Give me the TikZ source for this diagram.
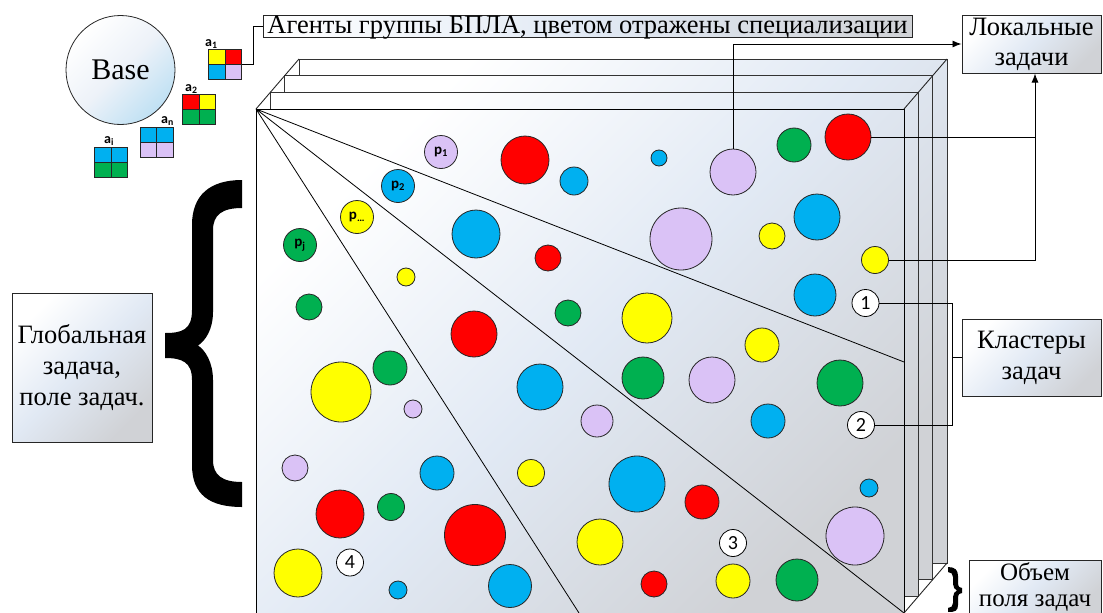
\documentclass[tikz,border=0pt]{standalone}
\usepackage{fontspec}
\setmainfont{Liberation Serif}
\newfontfamily\calib{Carlito}
\usetikzlibrary{arrows.meta,calc}
\definecolor{cyel}{RGB}{255,255,0}
\definecolor{cred}{RGB}{255,0,0}
\definecolor{ccya}{RGB}{0,176,240}
\definecolor{cgrn}{RGB}{0,176,80}
\definecolor{clav}{RGB}{218,194,246}
\definecolor{fblue}{RGB}{225,233,244}
\definecolor{fgray}{RGB}{208,210,214}
\newcommand\cball[5]{\node[dot,fill=#4,minimum size=#5pt] (#1) at (#2,#3) {};}
\begin{document}
\begin{tikzpicture}[x=1pt,y=-1pt,
 dot/.style={circle, draw=black!85, line width=0.8pt, inner sep=0pt},
 numc/.style={circle, draw=black, line width=0.8pt, fill=white, inner sep=0pt, minimum size=27pt, font=\calib\fontsize{20}{20}\selectfont},
 plab/.style={font=\calib\bfseries\fontsize{15}{15}\selectfont},
 alab/.style={inner sep=0pt, anchor=base west, font=\calib\bfseries\fontsize{14}{14}\selectfont},
 lbox/.style={draw=black!85, line width=1pt, top color=white, bottom color=fgray, middle color=fblue, shading angle=45, align=center, font=\fontsize{26.5}{31}\selectfont, inner sep=0pt},
 layer/.style={draw=black!80, line width=1pt, top color=white, bottom color=fgray, middle color=fblue, shading angle=45},
 fan/.style={line width=0.8pt},
 conn/.style={line width=0.9pt},
 arr/.style={conn, -{Latex[length=9pt,width=7pt]}},
 brace/.style={fill=black},
 agent/.style n args={4}{draw=black!85, line width=0.8pt, minimum width=33pt, minimum height=30pt, inner sep=0pt, path picture={
   \fill[#1] (path picture bounding box.north west) rectangle (path picture bounding box.center);
   \fill[#2] (path picture bounding box.north) rectangle (path picture bounding box.east);
   \fill[#3] (path picture bounding box.west) rectangle (path picture bounding box.south);
   \fill[#4] (path picture bounding box.center) rectangle (path picture bounding box.south east);
   \draw[line width=0.8pt] (path picture bounding box.north) -- (path picture bounding box.south)
     (path picture bounding box.west) -- (path picture bounding box.east);}}
]
\useasboundingbox (0,0) rectangle (1103,613);

% stacked layers
\draw[layer] (299,59) rectangle (947,563);
\draw[layer] (284.67,75.67) rectangle (932.67,579.67);
\draw[layer] (270.33,92.33) rectangle (918.33,596.33);
\draw[layer, draw=black] (256,109) rectangle (904,613.5);
\coordinate (apex) at (256,109);
\coordinate (bnw) at (299,59);
\coordinate (fne) at (904,109);
\coordinate (bne) at (947,59);
\coordinate (fse) at (904,613);
\coordinate (bse) at (947,563);
\draw[conn, black!85] (apex) -- (bnw) (fne) -- (bne) (fse) -- (bse);

% fan lines
\coordinate (fe1) at (904,362);
\coordinate (fe3) at (579,613);
\draw[fan] (apex) -- (fe1) (apex) -- (fse) (apex) -- (fe3);

% p-circles
\node[dot, fill=clav, minimum size=33pt, plab] (p1) at (441,152) {p\textsubscript{1}};
\node[dot, fill=ccya, minimum size=33pt, plab] (p2) at (398,186) {p\textsubscript{2}};
\node[dot, fill=cyel, minimum size=33pt, plab] (pd) at (357,217) {p\textsubscript{…}};
\node[dot, fill=cgrn, minimum size=33pt, plab] (pj) at (300,245) {p\textsubscript{j}};

% task circles
\cball{c01}{525}{160}{cred}{48}
\cball{c02}{659}{158}{ccya}{16}
\cball{c03}{574}{181}{ccya}{28}
\cball{c04}{733}{172}{clav}{46}
\cball{c05}{794}{145}{cgrn}{34}
\cball{c06}{848}{137}{cred}{46}
\cball{c07}{476}{234}{ccya}{48}
\cball{c08}{548}{258}{cred}{26}
\cball{c09}{681}{239}{clav}{62}
\cball{c10}{772}{236}{cyel}{26}
\cball{c11}{817}{217}{ccya}{46}
\cball{c12}{875}{260}{cyel}{27}
\cball{c13}{406}{277}{cyel}{18}
\cball{c14}{309}{307}{cgrn}{26}
\cball{c15}{568}{313}{cgrn}{26}
\cball{c16}{647}{318}{cyel}{50}
\cball{c17}{815}{295}{ccya}{42}
\cball{c18}{474}{334}{cred}{46}
\cball{c19}{762}{345}{cyel}{34}
\cball{c20}{341}{392}{cyel}{60}
\cball{c21}{390}{368}{cgrn}{34}
\cball{c22}{413}{409}{clav}{18}
\cball{c23}{540}{387}{ccya}{46}
\cball{c24}{643}{378}{cgrn}{42}
\cball{c25}{712}{380}{clav}{46}
\cball{c26}{840}{383}{cgrn}{46}
\cball{c27}{597}{421}{clav}{32}
\cball{c28}{768}{421}{ccya}{34}
\cball{c29}{295}{468}{clav}{26}
\cball{c30}{437}{473}{ccya}{34}
\cball{c31}{531}{473}{cyel}{27}
\cball{c32}{637}{484}{ccya}{56}
\cball{c33}{702}{502}{cred}{34}
\cball{c34}{869}{488}{ccya}{18}
\cball{c35}{855}{536}{clav}{58}
\cball{c36}{340}{514}{cred}{48}
\cball{c37}{391}{507}{cgrn}{27}
\cball{c38}{475}{535}{cred}{61}
\cball{c39}{298}{573}{cyel}{48}
\cball{c40}{398}{590}{ccya}{18}
\cball{c41}{510}{586}{ccya}{43}
\cball{c42}{600}{542}{cyel}{46}
\cball{c43}{654}{584}{cred}{26}
\cball{c44}{733}{581}{cyel}{34}
\cball{c45}{797}{580}{cgrn}{42}

% cluster numbers
\node[numc] (n1) at (865.5,303) {1};
\node[numc] (n2) at (861,425) {2};
\node[numc] (n3) at (733,543) {3};
\node[numc] (n4) at (350,562.5) {4};

% base and agents
\node[circle, draw=black!85, line width=0.8pt, minimum size=109pt, top color=white, bottom color=fblue!85!ccya, middle color=fblue!60, shading angle=45, font=\fontsize{30}{30}\selectfont] (base) at (120.5,70) {Base};
\node[agent={cyel}{cred}{ccya}{clav}] (ag1) at (225,64.3) {};
\node[agent={cred}{cyel}{cgrn}{cgrn}] (ag2) at (199.3,109) {};
\node[agent={ccya}{ccya}{clav}{clav}] (agn) at (156.7,142) {};
\node[agent={ccya}{ccya}{cgrn}{cgrn}] (agi) at (111,162.5) {};
\node[alab] (la1) at (205,46) {a\textsubscript{1}};
\node[alab] (la2) at (185,91) {a\textsubscript{2}};
\node[alab] (lan) at (161,123) {a\textsubscript{n}};
\node[alab] (lai) at (104,143) {a\textsubscript{i}};

% label boxes
\node[lbox, left color=white, right color=fgray, middle color=fblue, minimum width=649pt, minimum height=22pt, text height=18pt, text depth=4pt] (agt) at (587.5,26) {Агенты группы БПЛА, цветом отражены специализации};
\node[lbox, minimum width=139pt, minimum height=58pt, font=\fontsize{26.5}{30}\selectfont] (lok) at (1031.5,44) {Локальные\\задачи};
\node[lbox, minimum width=139pt, minimum height=77pt] (kl) at (1031.5,357.5) {Кластеры\\задач};
\node[lbox, minimum width=140pt, minimum height=149pt] (glob) at (82,367.5) {Глобальная\\задача,\\поле задач.};
\node[lbox, anchor=north, minimum width=132pt, inner ysep=2pt, font=\fontsize{25}{26.5}\selectfont] (vol) at (1035,560) {Объем\\поля задач};

% connectors
\draw[conn] (ag1.east) -- ++(12,0) |- (agt.west);
\draw[arr] (c04.north) |- (lok.west);
\coordinate (lj) at (1035,137);
\draw[conn] (c06.east) -- (lj);
\draw[arr] (c12.east) -| (lj) -- (lj |- lok.south);
\coordinate (kb) at (952,357.5);
\draw[conn] (n1.east) -| (kb) |- (n2.east);
\draw[conn] (kb) -- (kl.west);

% braces
\fill[brace] (242,180) .. controls (210,180) and (192,195) .. (192,225) -- (192,310)
  .. controls (192,330) and (182,333) .. (165,333) -- (165,358)
  .. controls (182,358) and (192,362) .. (192,380) -- (192,465)
  .. controls (192,495) and (210,507) .. (242,507) -- (242,482)
  .. controls (222,482) and (213,475) .. (213,460) -- (213,380)
  .. controls (213,362) and (205,350) .. (198,345.5)
  .. controls (205,341) and (213,330) .. (213,312) -- (213,230)
  .. controls (213,215) and (222,208) .. (242,208) -- cycle;
\fill[brace] (948,567) .. controls (955,567) and (958,570) .. (958,576) -- (958,583)
  .. controls (958,587) and (960,588) .. (962,588) -- (962,593)
  .. controls (960,593) and (958,594) .. (958,598) -- (958,605)
  .. controls (958,611) and (955,612) .. (948,612) -- (948,608)
  .. controls (951,608) and (953,606) .. (953,603) -- (953,597)
  .. controls (953,594) and (955,591) .. (957,590.5)
  .. controls (955,590) and (953,587) .. (953,584) -- (953,577)
  .. controls (953,574) and (951,572) .. (948,572) -- cycle;
\end{tikzpicture}
\end{document}
